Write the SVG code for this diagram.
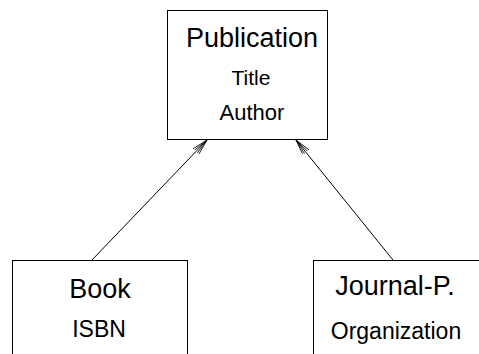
<svg xmlns="http://www.w3.org/2000/svg" width="479" height="354" viewBox="0 0 479 354">
<style>
.box{fill:#fff;stroke:#000;stroke-width:1}
.t{font-family:"Liberation Sans",Arial,sans-serif;text-anchor:middle;fill:#000}
.big{font-size:27px}
.small{font-size:22px}
.conn{stroke:#000;stroke-width:1;fill:none;marker-end:url(#arr)}
</style>
<defs>
<marker id="arr" viewBox="0 0 16 8" refX="16" refY="4" markerWidth="16" markerHeight="8" markerUnits="userSpaceOnUse" orient="auto">
<path d="M0,0 L16,4 L0,8 M0,2 L16,4 L0,6" fill="none" stroke="#000" stroke-width="0.8"/>
</marker>
</defs>
<rect width="479" height="354" fill="#fff"/>
<g id="publication">
<rect class="box" x="167.5" y="10.5" width="160" height="129"/>
<text class="t big" x="252" y="47">Publication</text>
<text class="t" x="251" y="85" font-size="21">Title</text>
<text class="t small" x="252" y="120">Author</text>
</g>
<g id="book">
<rect class="box" x="12.5" y="260.5" width="175" height="110"/>
<text class="t big" x="100" y="298">Book</text>
<text class="t" x="99" y="337" font-size="23">ISBN</text>
</g>
<g id="journal">
<rect class="box" x="313.5" y="260.5" width="180" height="110"/>
<text class="t big" x="395" y="295">Journal-P.</text>
<text class="t" x="396" y="339" font-size="23">Organization</text>
</g>
<g id="connectors">
<line class="conn" x1="92" y1="260" x2="207" y2="140"/>
<line class="conn" x1="393" y1="260" x2="296" y2="140"/>
</g>
</svg>
